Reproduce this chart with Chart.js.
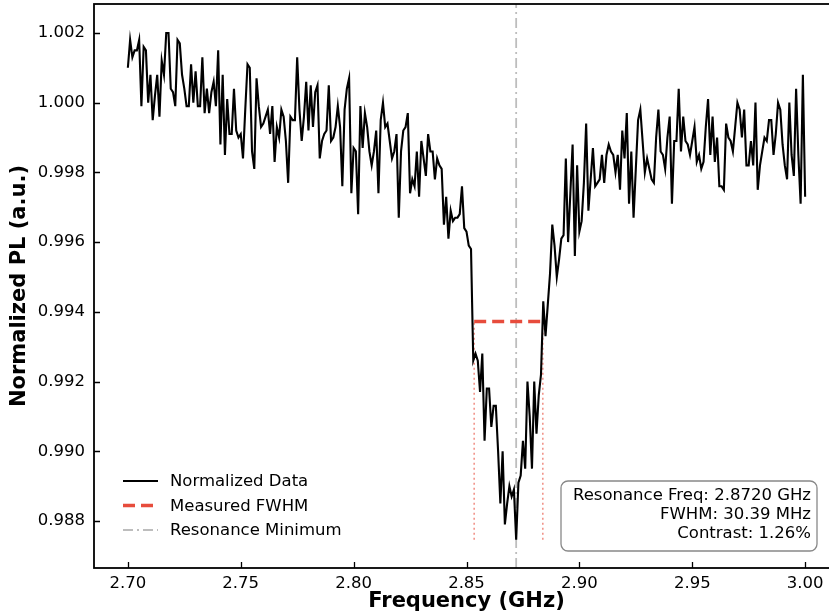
<!DOCTYPE html>
<html>
<head>
<meta charset="utf-8">
<script src="https://cdn.jsdelivr.net/npm/chart.js@4.4.0/dist/chart.umd.min.js"></script>
<style>
    html, body { margin: 0; padding: 0; background: #fff; overflow: hidden; }
    #wrap { position: relative; width: 840px; height: 616px; }
</style>
</head>
<body>
<div id="wrap"><canvas id="odmr" width="840" height="616"></canvas></div>
<script>
// ---------------------------------------------------------------------------
// Data (sweep 2.700 -> 3.000 GHz, 1 MHz step)
// ---------------------------------------------------------------------------

const FREQ_START = 2.700;
const FREQ_STEP = 0.001;

const normalizedPL = [
    1.0010, 1.0018, 1.0013, 1.0015, 1.0015, 1.0018, 0.9999, 1.0016, 1.0015, 1.0000,
    1.0008, 0.9995, 1.0002, 1.0008, 0.9996, 1.0012, 1.0008, 1.0020, 1.0020, 1.0004,
    1.0003, 0.9999, 1.0018, 1.0017, 1.0008, 1.0004, 0.9999, 0.9999, 1.0011, 1.0000,
    1.0009, 0.9999, 0.9999, 1.0013, 0.9997, 1.0004, 0.9997, 1.0003, 1.0006, 0.9999,
    1.0015, 0.9988, 1.0008, 0.9985, 1.0001, 0.9991, 0.9991, 1.0004, 0.9992, 0.9990,
    0.9991, 0.9984, 0.9998, 1.0011, 1.0010, 0.9986, 0.9981, 1.0007, 0.9999, 0.9993,
    0.9994, 0.9996, 0.9998, 0.9991, 0.9999, 0.9983, 0.9993, 0.9990, 0.9998, 0.9996,
    0.9989, 0.9977, 0.9996, 0.9995, 0.9995, 1.0013, 0.9998, 0.9989, 0.9996, 1.0006,
    0.9992, 1.0005, 0.9993, 1.0003, 1.0005, 0.9984, 0.9989, 0.9991, 0.9992, 1.0005,
    0.9989, 0.9990, 0.9993, 0.9999, 0.9993, 0.9976, 0.9998, 1.0004, 1.0007, 0.9974,
    0.9987, 0.9986, 0.9968, 0.9999, 0.9987, 0.9997, 0.9993, 0.9986, 0.9982, 0.9986,
    0.9992, 0.9974, 0.9995, 1.0000, 0.9993, 0.9994, 0.9989, 0.9984, 0.9986, 0.9991,
    0.9967, 0.9986, 0.9992, 0.9993, 0.9997, 0.9974, 0.9978, 0.9976, 0.9986, 0.9973,
    0.9989, 0.9984, 0.9979, 0.9991, 0.9986, 0.9986, 0.9978, 0.9984, 0.9982, 0.9981,
    0.9965, 0.9973, 0.9961, 0.9969, 0.9966, 0.9967, 0.9967, 0.9968, 0.9976, 0.9964,
    0.9963, 0.9959, 0.9958, 0.9926, 0.9928, 0.9926, 0.9917, 0.9928, 0.9903, 0.9918,
    0.9918, 0.9907, 0.9913, 0.9913, 0.9900, 0.9885, 0.9900, 0.9879, 0.9885, 0.9890,
    0.9887, 0.9889, 0.98746, 0.9891, 0.9893, 0.9903, 0.9895, 0.9920, 0.9910, 0.9895,
    0.9920, 0.9905, 0.9916, 0.9922, 0.9943, 0.9933, 0.9942, 0.9951, 0.9965, 0.9959,
    0.9950, 0.9955, 0.9961, 0.9962, 0.9984, 0.9960, 0.9974, 0.9988, 0.9956, 0.9982,
    0.9963, 0.9966, 0.9977, 0.9994, 0.9969, 0.9978, 0.9987, 0.9976, 0.9977, 0.9978,
    0.9985, 0.9977, 0.9985, 0.9988, 0.9986, 0.9985, 0.9980, 0.9985, 0.9975, 0.9992,
    0.9984, 0.9997, 0.9971, 0.9986, 0.9967, 0.9981, 0.9995, 0.9998, 0.9989, 0.9980,
    0.9984, 0.9981, 0.9978, 0.9977, 0.9990, 0.9998, 0.9986, 0.9985, 0.9981, 0.9990,
    0.9996, 0.9971, 0.9989, 0.9989, 1.0004, 0.9986, 0.9996, 0.9989, 0.9988, 0.9985,
    0.9989, 0.9993, 0.9983, 0.9985, 0.9981, 0.9983, 0.9993, 1.0001, 0.9985, 0.9996,
    0.9983, 0.9990, 0.9976, 0.9976, 0.9975, 0.9994, 0.9990, 0.9989, 0.9986, 0.9993,
    1.0000, 0.9998, 0.9990, 0.9998, 0.9982, 0.9982, 0.9989, 0.9982, 1.0000, 0.9975,
    0.9982, 0.9986, 0.9990, 0.9989, 0.9995, 0.9995, 0.9985, 0.9991, 1.0000, 0.9998,
    0.9988, 0.9982, 0.9978, 1.0000, 0.9985, 0.9979, 1.0004, 0.9985, 0.9971, 1.0008,
    0.9973
];

// fit results shown on the plot
const resonanceFreq = 2.8720;   // GHz
const fwhmLeft = 2.8534;        // GHz
const fwhmRight = 2.8838;       // GHz
const halfMaxLevel = 0.99372;
const minLevel = 0.98746;

const statsLines = [
    "Resonance Freq: 2.8720 GHz",
    "FWHM: 30.39 MHz",
    "Contrast: 1.26%",
];

const xTicks = [2.70, 2.75, 2.80, 2.85, 2.90, 2.95, 3.00];
const yTicks = [0.988, 0.990, 0.992, 0.994, 0.996, 0.998, 1.000, 1.002];

const X_MIN = 2.685, X_MAX = 3.015;
const Y_MIN = 0.98665, Y_MAX = 1.00283;

// ---------------------------------------------------------------------------
// Colours / fonts
// ---------------------------------------------------------------------------

const FONT = "'DejaVu Sans', 'Liberation Sans', sans-serif";
const DATA_COLOR = "#000000";
const FWHM_COLOR = "#e74c3c";
const FWHM_DOT_COLOR = "rgba(231,76,60,0.6)";
const RES_COLOR = "#bdbdbd";

const dataPoints = normalizedPL.map((v, i) => ({ x: +(FREQ_START + i * FREQ_STEP).toFixed(3), y: v }));

// ---------------------------------------------------------------------------
// Plugins: frame + inward ticks, legend, stats box
// ---------------------------------------------------------------------------

const frameTicks = {
    id: "frameTicks",
    afterDraw(chart) {
        const { ctx, chartArea: a, scales } = chart;
        ctx.save();
        ctx.strokeStyle = "#000";
        ctx.lineWidth = 1.3;
        ctx.beginPath();
        xTicks.forEach((v) => {
            const px = Math.round(scales.x.getPixelForValue(v)) + 0.5;
            ctx.moveTo(px, a.bottom);
            ctx.lineTo(px, a.bottom - 6);
        });
        yTicks.forEach((v) => {
            const py = Math.round(scales.y.getPixelForValue(v)) + 0.5;
            ctx.moveTo(a.left, py);
            ctx.lineTo(a.left + 6, py);
        });
        ctx.stroke();
        ctx.lineWidth = 1.8;
        ctx.strokeRect(a.left, a.top, a.right - a.left, a.bottom - a.top);
        ctx.restore();
    },
};

const legendBox = {
    id: "legendBox",
    afterDraw(chart) {
        const { ctx } = chart;
        const items = [
            { label: "Normalized Data", color: DATA_COLOR, width: 2, dash: [] },
            { label: "Measured FWHM", color: FWHM_COLOR, width: 3.4, dash: [12, 6] },
            { label: "Resonance Minimum", color: RES_COLOR, width: 1.8, dash: [10, 4, 2, 4] },
        ];
        ctx.save();
        ctx.font = "16.5px " + FONT;
        ctx.textBaseline = "middle";
        items.forEach((it, i) => {
            const y = 481 + i * 24.5;
            ctx.strokeStyle = it.color;
            ctx.lineWidth = it.width;
            ctx.setLineDash(it.dash);
            ctx.beginPath();
            ctx.moveTo(123, y);
            ctx.lineTo(158, y);
            ctx.stroke();
            ctx.fillStyle = "#000";
            ctx.fillText(it.label, 170, y + 1);
        });
        ctx.restore();
    },
};

const statsBox = {
    id: "statsBox",
    afterDraw(chart) {
        const { ctx } = chart;
        const x0 = 561, y0 = 481, w = 256, h = 70, r = 7;
        ctx.save();
        ctx.beginPath();
        ctx.moveTo(x0 + r, y0);
        ctx.arcTo(x0 + w, y0, x0 + w, y0 + h, r);
        ctx.arcTo(x0 + w, y0 + h, x0, y0 + h, r);
        ctx.arcTo(x0, y0 + h, x0, y0, r);
        ctx.arcTo(x0, y0, x0 + w, y0, r);
        ctx.closePath();
        ctx.fillStyle = "rgba(255,255,255,0.85)";
        ctx.fill();
        ctx.strokeStyle = "#888";
        ctx.lineWidth = 1.3;
        ctx.stroke();
        ctx.font = "16.5px " + FONT;
        ctx.fillStyle = "#000";
        ctx.textAlign = "right";
        ctx.textBaseline = "middle";
        statsLines.forEach((s, i) => ctx.fillText(s, 811, 496 + i * 19));
        ctx.restore();
    },
};

// ---------------------------------------------------------------------------
// Chart
// ---------------------------------------------------------------------------

const ctx = document.getElementById("odmr").getContext("2d");
new Chart(ctx, {
    type: "line",
    data: {
        datasets: [
            {
                label: "Normalized Data",
                data: dataPoints,
                borderColor: DATA_COLOR,
                borderWidth: 2.1,
                pointRadius: 0,
                tension: 0,
                order: 1,
            },
            {
                label: "Measured FWHM",
                data: [{ x: fwhmLeft, y: halfMaxLevel }, { x: fwhmRight, y: halfMaxLevel }],
                borderColor: FWHM_COLOR,
                borderWidth: 3.4,
                borderDash: [12, 6],
                pointRadius: 0,
                order: 0,
            },
            {
                label: "fwhm-left",
                data: [{ x: fwhmLeft, y: minLevel }, { x: fwhmLeft, y: halfMaxLevel }],
                borderColor: FWHM_DOT_COLOR,
                borderWidth: 1.6,
                borderDash: [2, 3],
                pointRadius: 0,
                order: 2,
            },
            {
                label: "fwhm-right",
                data: [{ x: fwhmRight, y: minLevel }, { x: fwhmRight, y: halfMaxLevel }],
                borderColor: FWHM_DOT_COLOR,
                borderWidth: 1.6,
                borderDash: [2, 3],
                pointRadius: 0,
                order: 2,
            },
            {
                label: "Resonance Minimum",
                data: [{ x: resonanceFreq, y: Y_MIN }, { x: resonanceFreq, y: Y_MAX }],
                borderColor: RES_COLOR,
                borderWidth: 1.8,
                borderDash: [10, 4, 2, 4],
                pointRadius: 0,
                order: 3,
            },
        ],
    },
    options: {
        responsive: false,
        animation: false,
        events: [],
        layout: { padding: { left: 0, top: 4, right: 1, bottom: 0 } },
        plugins: { legend: { display: false }, tooltip: { enabled: false } },
        scales: {
            x: {
                type: "linear",
                min: X_MIN,
                max: X_MAX,
                afterBuildTicks: (s) => { s.ticks = xTicks.map((v) => ({ value: v })); },
                afterFit: (s) => { s.height = 48; s.paddingLeft = 0; s.paddingRight = 0; },
                ticks: {
                    color: "#000",
                    font: { family: FONT, size: 16.5 },
                    padding: 6,
                    maxRotation: 0,
                    callback: (v) => Number(v).toFixed(2),
                },
                grid: { drawOnChartArea: false, drawTicks: false },
                border: { display: false },
                title: {
                    display: true,
                    text: "Frequency (GHz)",
                    color: "#000",
                    font: { family: FONT, size: 21, weight: "bold" },
                    padding: { top: 0, bottom: 2 },
                },
            },
            y: {
                min: Y_MIN,
                max: Y_MAX,
                afterBuildTicks: (s) => { s.ticks = yTicks.map((v) => ({ value: v })); },
                afterFit: (s) => { s.width = 94; s.paddingTop = 0; s.paddingBottom = 0; },
                ticks: {
                    color: "#000",
                    font: { family: FONT, size: 16.5 },
                    padding: 9,
                    callback: (v) => Number(v).toFixed(3),
                },
                grid: { drawOnChartArea: false, drawTicks: false },
                border: { display: false },
                title: {
                    display: true,
                    text: "Normalized PL (a.u.)",
                    color: "#000",
                    font: { family: FONT, size: 21, weight: "bold" },
                    padding: { top: 7, bottom: 0 },
                },
            },
        },
    },
    plugins: [frameTicks, legendBox, statsBox],
});
</script>
</body>
</html>
